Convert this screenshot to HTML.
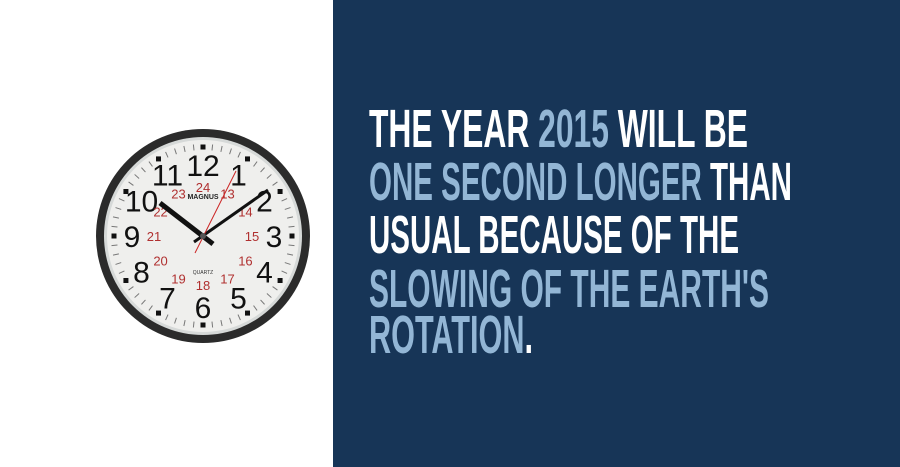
<!DOCTYPE html>
<html><head><meta charset="utf-8"><style>
html,body{margin:0;padding:0;width:900px;height:467px;overflow:hidden;background:#fff}
svg{display:block}
</style></head><body>
<svg width="900" height="467" viewBox="0 0 900 467">
<rect x="0" y="0" width="333" height="467" fill="#ffffff"/>
<rect x="333" y="0" width="567" height="467" fill="#173557"/>
<g id="clock">
 <circle cx="203" cy="236" r="107" fill="#2b2b2b"/>
 <circle cx="203" cy="236" r="99" fill="#d6d9d8"/>
 <circle cx="203" cy="236" r="96" fill="#efefed"/>
</g>
<g font-family="'Liberation Sans Narrow','Liberation Sans',sans-serif" font-weight="bold" font-size="54">
 <text x="369" y="147" textLength="379" lengthAdjust="spacingAndGlyphs" fill="#fff">THE YEAR <tspan fill="#93b6d5">2015</tspan> WILL BE</text>
 <text x="369" y="200" textLength="423" lengthAdjust="spacingAndGlyphs" fill="#93b6d5">ONE SECOND LONGER <tspan fill="#fff">THAN</tspan></text>
 <text x="369" y="253" textLength="370" lengthAdjust="spacingAndGlyphs" fill="#fff">USUAL BECAUSE OF THE</text>
 <text x="369" y="307" textLength="400" lengthAdjust="spacingAndGlyphs" fill="#93b6d5">SLOWING OF THE EARTH'S</text>
 <text x="369" y="353" textLength="164" lengthAdjust="spacingAndGlyphs" fill="#93b6d5">ROTATION<tspan fill="#fff">.</tspan></text>
</g>
</svg>
<script>
var ns="http://www.w3.org/2000/svg";
var g=document.getElementById('clock');
var cx=203,cy=236;
function mk(t,a){var e=document.createElementNS(ns,t);for(var k in a)e.setAttribute(k,a[k]);g.appendChild(e);return e;}
for(var i=0;i<60;i++){
 var a=i*Math.PI/30, s=Math.sin(a), c=-Math.cos(a);
 if(i%5==0){
  var r=89;
  var el=mk('rect',{x:cx+s*r-2.5,y:cy+c*r-2.5,width:5,height:5,fill:'#111'});
  
  
 } else {
  var el=mk('line',{x1:cx+s*86,y1:cy+c*86,x2:cx+s*92,y2:cy+c*92,stroke:'#777','stroke-width':1});
  
  
 }
}
for(var h=1;h<=12;h++){
 var a=h*Math.PI/6, s=Math.sin(a), c=-Math.cos(a);
 var t=mk('text',{x:cx+s*71,y:cy+c*71+11,'text-anchor':'middle','font-family':'Liberation Sans,sans-serif','font-size':30,fill:'#111'});
 t.textContent=h;
 
 
 var t2=mk('text',{x:cx+s*49,y:cy+c*49+5,'text-anchor':'middle','font-family':'Liberation Sans,sans-serif','font-size':13,fill:'#b03030'});
 t2.textContent=h+12;
 
 
}
var b=mk('text',{x:cx,y:cy-37,'text-anchor':'middle','font-family':'Liberation Sans,sans-serif','font-size':7,'font-weight':'bold',fill:'#222'});
b.textContent='MAGNUS';


var q=mk('text',{x:cx,y:cy+38,'text-anchor':'middle','font-family':'Liberation Sans,sans-serif','font-size':5,fill:'#333'});
q.textContent='QUARTZ';


var hh=mk('line',{x1:cx+10,y1:cy+8,x2:cx-43,y2:cy-33,stroke:'#111','stroke-width':5,'stroke-linecap':'butt'});


var mh=mk('line',{x1:cx-9,y1:cy+6,x2:cx+65,y2:cy-46,stroke:'#111','stroke-width':3});


var sh=mk('line',{x1:cx-8,y1:cy+17,x2:cx+33,y2:cy-65,stroke:'#c22','stroke-width':1});


var hub=mk('circle',{cx:cx,cy:cy,r:3,fill:'#555'});


</script>
</body></html>
